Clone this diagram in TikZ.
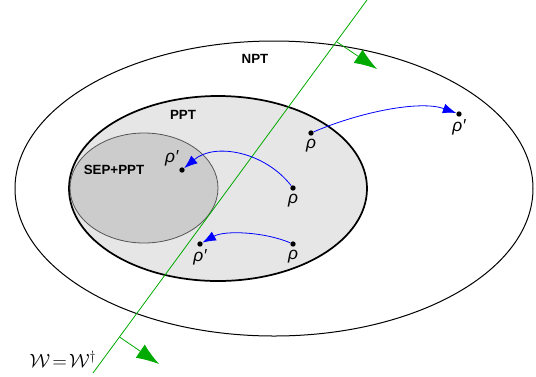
\documentclass[tikz,border=0pt]{standalone}
\usepackage{fontspec}
\setmainfont{Liberation Sans}
\usepackage{amsmath}
\usetikzlibrary{arrows.meta}

\definecolor{wgreen}{RGB}{0,170,0}
\tikzset{
  state/.style={circle,fill=black,inner sep=0pt,minimum size=4pt},
  setname/.style={font=\bfseries\fontsize{10}{12}\selectfont},
  maplink/.style={blue,line width=0.6pt,-{Latex[length=10pt,width=7.5pt]}},
  normal/.style={wgreen,line width=0.6pt,-{Latex[length=17pt,width=12pt]}},
}

\begin{document}
\begin{tikzpicture}[x=0.75pt,y=0.75pt,yscale=-1,xscale=1,font=\itshape\fontsize{13}{15}\selectfont]
\useasboundingbox (0,0) rectangle (536,376);

%Shape: Ellipse NPT
\draw [line width=0.75pt] (274,188.5) ellipse [x radius=259, y radius=147.5];
%Shape: Ellipse PPT
\draw [line width=1.3pt, fill={rgb, 255:red, 230; green, 230; blue, 230 }] (218,188.5) ellipse [x radius=149, y radius=92.5];
%Shape: Ellipse SEP
\draw [line width=0.6pt, draw={rgb, 255:red, 85; green, 85; blue, 85 }, fill={rgb, 255:red, 204; green, 204; blue, 204 }] (144,188) ellipse [x radius=74, y radius=55];

%Straight Lines: witness hyperplane
\coordinate (wtop) at (367,0);
\coordinate (wbot) at (93,373);
\draw [wgreen, line width=0.6pt] (wbot) -- (wtop);
\coordinate (ntop) at (337,42);
\coordinate (ntoptip) at (377,69);
\coordinate (nbot) at (119.5,337);
\coordinate (nbottip) at (159,364);
\draw [normal] (ntop) -- (ntoptip);
\draw [normal] (nbot) -- (nbottip);

% States
\node [state, label={[inner sep=2pt]below:ρ}] (r1) at (311,133) {};
\node [state, label={[inner sep=2pt]below:ρ′}] (r1p) at (459,114) {};
\node [state, label={[inner sep=2pt]below:ρ}] (r2) at (293,188) {};
\node [state, label={[inner sep=1pt]above left:ρ′}] (r2p) at (182,170) {};
\node [state, label={[inner sep=2pt]below:ρ}] (r3) at (293,244) {};
\node [state, label={[inner sep=2pt]below:ρ′}] (r3p) at (200,244) {};

%Curve Lines
\draw [maplink] (r1) .. controls (360,112) and (420,100) .. (r1p);
\draw [maplink] (r2) .. controls (265,152) and (215,142) .. (r2p);
\draw [maplink] (r3) .. controls (265,232) and (225,230) .. (r3p);

% Text Node
\node [setname] (npt) at (255,59) {NPT};
% Text Node
\node [setname] (ppt) at (183,115) {PPT};
% Text Node
\node [setname] (sep) at (114,170) {SEP+PPT};
% Text Node
\node [font=\fontsize{14}{16}\selectfont] (wlab) at (63,359) {$\mathcal{W}\!=\!\mathcal{W}^{\dagger}$};

\end{tikzpicture}
\end{document}
